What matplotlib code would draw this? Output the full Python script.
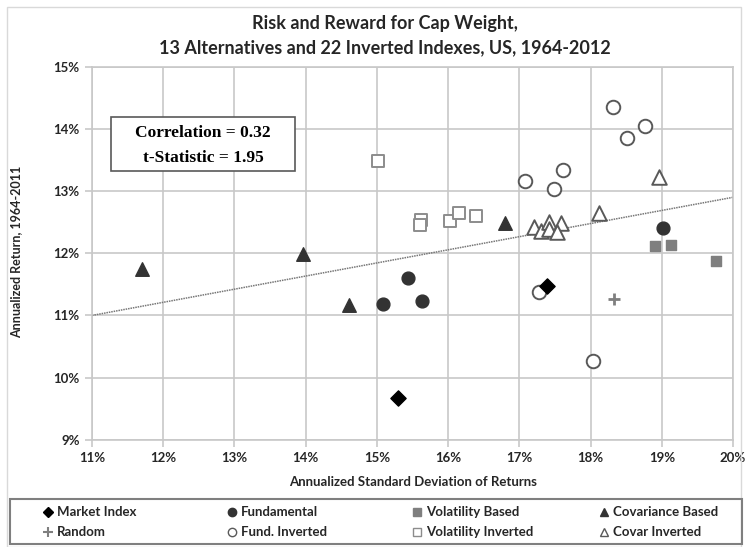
import matplotlib
matplotlib.use("Agg")
import matplotlib.pyplot as plt
from matplotlib.lines import Line2D
from matplotlib.patches import Rectangle
from matplotlib.ticker import FuncFormatter

# values (annualized std dev %, annualized return %)
market_x = [15.29, 17.39]
market_y = [9.67, 11.47]
fund_x = [15.08, 15.43, 15.64, 19.02]
fund_y = [11.18, 11.60, 11.23, 12.41]
vol_x = [18.91, 19.13, 19.76]
vol_y = [12.12, 12.14, 11.88]
cov_x = [11.70, 13.96, 14.61, 16.80]
cov_y = [11.74, 11.99, 11.17, 12.49]
random_x = [18.33]
random_y = [11.26]
fund_inv_x = [18.32, 18.77, 18.51, 17.61, 17.08, 17.49, 17.28, 18.04]
fund_inv_y = [14.36, 14.04, 13.85, 13.34, 13.17, 13.04, 11.37, 10.26]
vol_inv_x = [15.02, 15.62, 15.60, 16.03, 16.15, 16.39]
vol_inv_y = [13.49, 12.53, 12.46, 12.52, 12.64, 12.60]
covar_inv_x = [18.96, 18.12, 17.20, 17.31, 17.42, 17.41, 17.59, 17.53]
covar_inv_y = [13.22, 12.64, 12.42, 12.35, 12.51, 12.39, 12.48, 12.34]

trend_x = [11, 20]
trend_y = [11.0, 12.9]

x_ticks = list(range(11, 21))
y_ticks = list(range(9, 16))

DARK = "#333333"
GREY = "#7f7f7f"
EDGE = "#595959"
TXT = "#262626"

plt.rcParams["font.family"] = ["Lato", "DejaVu Sans"]
plt.rcParams["font.weight"] = "bold"

fig = plt.figure(figsize=(7.48, 5.47), dpi=100)
ax = fig.add_axes([0.123, 0.196, 0.857, 0.682])

fig.patches.append(Rectangle((0.009, 0.0), 0.982, 0.987, transform=fig.transFigure,
                             fill=False, edgecolor="#d9d9d9", linewidth=1))

ax.plot(trend_x, trend_y, linestyle=(0, (1, 0.6)), color="#777777", linewidth=1.1, zorder=2)

ax.scatter(market_x, market_y, marker="D", s=60, color="black", zorder=4)
ax.scatter(fund_x, fund_y, marker="o", s=85, color=DARK, zorder=4)
ax.scatter(vol_x, vol_y, marker="s", s=60, color=GREY, zorder=4)
ax.scatter(cov_x, cov_y, marker="^", s=95, color=DARK, zorder=4)
ax.scatter(random_x, random_y, marker="+", s=80, color=GREY, linewidths=2, zorder=4)
ax.scatter(fund_inv_x, fund_inv_y, marker="o", s=95, facecolor="white", edgecolor=EDGE,
           linewidths=1.4, zorder=3)
ax.scatter(vol_inv_x, vol_inv_y, marker="s", s=70, facecolor="white", edgecolor="#8c8c8c",
           linewidths=1.4, zorder=3)
ax.scatter(covar_inv_x, covar_inv_y, marker="^", s=110, facecolor="white", edgecolor=EDGE,
           linewidths=1.4, zorder=3)

ax.set_xlim(11, 20)
ax.set_ylim(9, 15)
ax.set_xticks(x_ticks)
ax.set_yticks(y_ticks)
pct = FuncFormatter(lambda v, _: f"{v:.0f}%")
ax.xaxis.set_major_formatter(pct)
ax.yaxis.set_major_formatter(pct)
ax.grid(True, color="#c8c8c8", linewidth=1.2, zorder=0)
ax.set_axisbelow(True)
for sp in ax.spines.values():
    sp.set_color("#c8c8c8")
    sp.set_linewidth(1.2)
ax.tick_params(axis="both", length=5, width=1.2, color="#c8c8c8", labelsize=9.5,
               labelcolor=TXT, pad=4)

# statistics box
ax.add_patch(Rectangle((0.0296, 0.721), 0.287, 0.145, transform=ax.transAxes,
                       facecolor="white", edgecolor="#595959", linewidth=1.2, zorder=5))
ax.text(0.173, 0.823, "Correlation = 0.32", transform=ax.transAxes, ha="center", va="center",
        fontsize=12.5, fontweight="bold", family="Liberation Serif", zorder=6)
ax.text(0.173, 0.756, "t-Statistic = 1.95", transform=ax.transAxes, ha="center", va="center",
        fontsize=12.5, fontweight="bold", family="Liberation Serif", zorder=6)

fig.text(0.514, 0.957, "Risk and Reward for Cap Weight,", ha="center", va="center",
         fontsize=13, fontweight="bold", color=TXT)
fig.text(0.514, 0.913, "13 Alternatives and 22 Inverted Indexes, US, 1964-2012", ha="center",
         va="center", fontsize=13, fontweight="bold", color=TXT)
fig.text(0.552, 0.118, "Annualized Standard Deviation of Returns", ha="center", va="center",
         fontsize=9.5, fontweight="bold", color=TXT)
fig.text(0.022, 0.54, "Annualized Return, 1964-2011", ha="center", va="center",
         rotation=90, fontsize=9, fontweight="bold", color=TXT)

# legend, laid out like the spreadsheet legend: 4 equal columns, 2 rows
labels = ["Market Index", "Random", "Fundamental", "Fund. Inverted",
          "Volatility Based", "Volatility Inverted", "Covariance Based", "Covar Inverted"]
styles = [
    dict(marker="D", markersize=5, color="black"),
    dict(marker="+", markersize=7, color=GREY, markeredgewidth=1.5),
    dict(marker="o", markersize=6, color=DARK),
    dict(marker="o", markersize=6, markerfacecolor="white", markeredgecolor=EDGE),
    dict(marker="s", markersize=6, color=GREY),
    dict(marker="s", markersize=6, markerfacecolor="white", markeredgecolor="#8c8c8c"),
    dict(marker="^", markersize=6, color=DARK),
    dict(marker="^", markersize=6, markerfacecolor="white", markeredgecolor=EDGE),
]
col_x = [48 / 748, 232 / 748, 417 / 748, 604 / 748]
row_y = [0.064, 0.027]
fig.patches.append(Rectangle((10 / 748, 0.0055), 732 / 748, 0.0825, transform=fig.transFigure,
                             fill=False, edgecolor="#7f7f7f", linewidth=1.5))
for i, (lab, st) in enumerate(zip(labels, styles)):
    cx, ry = col_x[i // 2], row_y[i % 2]
    fig.add_artist(Line2D([cx], [ry], linestyle="none", transform=fig.transFigure, **st))
    fig.text(cx + 9 / 748, ry, lab, ha="left", va="center", fontsize=9.5,
             fontweight="bold", color=TXT)

fig.savefig("out.png", dpi=100)
